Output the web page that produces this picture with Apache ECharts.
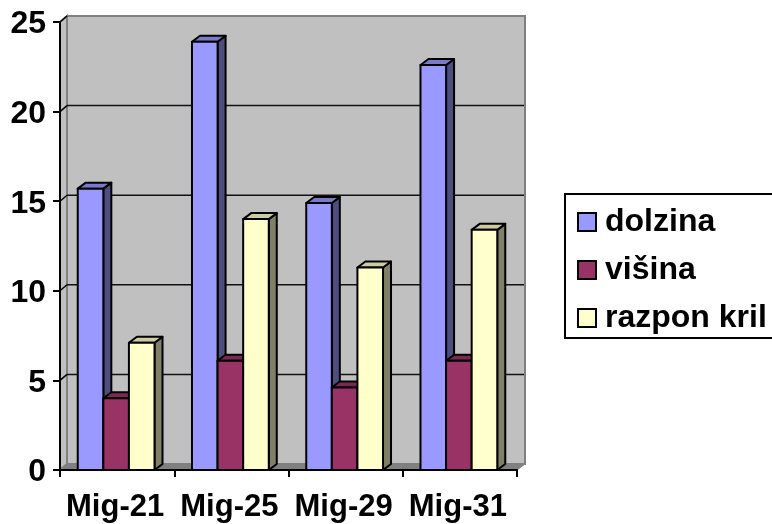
<!DOCTYPE html>
<html>
<head>
<meta charset="utf-8">
<style>
  html, body { margin: 0; padding: 0; background: #fff; }
  #chart { width: 772px; height: 524px; }
</style>
<script src="https://cdn.jsdelivr.net/npm/echarts@6/dist/echarts.min.js"></script>
</head>
<body>
<div id="chart"></div>
<script>
const categories = ["Mig-21", "Mig-25", "Mig-29", "Mig-31"];
const dolzina = [15.7, 23.9, 14.9, 22.6];
const visina = [4.0, 6.1, 4.6, 6.1];
const razpon = [7.1, 14.0, 11.3, 13.4];
const yTicks = [0, 5, 10, 15, 20, 25];

const FONT = "Liberation Sans";
const WALL_DX = 7, WALL_DY = -6; // depth of the fake 3d box
const BAR_DX = 8, BAR_DY = -6;

const chart = echarts.init(document.getElementById("chart"));

// back wall, left wall, floor and the gridlines on them
function renderWall(params, api) {
  const cs = params.coordSys;
  const x0 = cs.x, x1 = cs.x + cs.width;
  const yTop = cs.y, yBot = cs.y + cs.height;
  const grey = "#808080";
  const kids = [
    { type: "polygon", shape: { points: [[x0 + WALL_DX, yTop + WALL_DY], [x1 + WALL_DX + 1, yTop + WALL_DY], [x1 + WALL_DX + 1, yBot + WALL_DY], [x0 + WALL_DX, yBot + WALL_DY]] },
      style: { fill: "#c0c0c0", stroke: grey, lineWidth: 2 } },
    { type: "polygon", shape: { points: [[x0, yTop], [x0 + WALL_DX, yTop + WALL_DY], [x0 + WALL_DX, yBot + WALL_DY], [x0, yBot]] },
      style: { fill: "#c0c0c0", stroke: grey, lineWidth: 2 } },
    { type: "polygon", shape: { points: [[x0, yBot], [x0 + WALL_DX, yBot + WALL_DY], [x1 + WALL_DX + 1, yBot + WALL_DY], [x1, yBot]] },
      style: { fill: grey, stroke: grey, lineWidth: 1 } }
  ];
  yTicks.forEach(t => {
    const y = api.coord([0, t])[1];
    kids.push({ type: "polyline", shape: { points: [[x0, y], [x0 + WALL_DX, y + WALL_DY]] }, style: { stroke: t ? "#000" : grey, lineWidth: 1.5, fill: null } });
    if (t > 0 && t < 25) {
      kids.push({ type: "line", shape: { x1: x0 + WALL_DX, y1: y + WALL_DY, x2: x1 + WALL_DX, y2: y + WALL_DY }, style: { stroke: "#111", lineWidth: 1.5 } });
    }
  });
  return { type: "group", children: kids };
}

// one box: front, side and top faces
function barRenderer(seriesPos, front, side, top) {
  return function (params, api) {
    const top0 = api.coord([api.value(0), api.value(1)]);
    const base = api.coord([api.value(0), 0]);
    const band = api.size([1, 0])[0];
    const w = band * 0.224;
    const x = top0[0] + (seriesPos - 1.5) * w - 1;
    const y = top0[1], yB = base[1];
    const line = { stroke: "#000", lineWidth: 2, lineJoin: "round" };
    return {
      type: "group",
      children: [
        { type: "polygon", shape: { points: [[x + w, y], [x + w + BAR_DX, y + BAR_DY], [x + w + BAR_DX, yB + BAR_DY], [x + w, yB]] },
          style: Object.assign({ fill: side }, line) },
        { type: "polygon", shape: { points: [[x, y], [x + BAR_DX, y + BAR_DY], [x + w + BAR_DX, y + BAR_DY], [x + w, y]] },
          style: Object.assign({ fill: top }, line) },
        { type: "rect", shape: { x: x, y: y, width: w, height: yB - y },
          style: Object.assign({ fill: front }, line) }
      ]
    };
  };
}

function toPoints(values) {
  return values.map((v, i) => [i, v]);
}

const option = {
  animation: false,
  backgroundColor: "#fff",
  grid: { left: 60, right: 255, top: 22, bottom: 54 },
  legend: {
    orient: "vertical",
    left: 565,
    top: 194,
    data: ["dolzina", "višina", "razpon kril"],
    icon: "rect",
    itemWidth: 18,
    itemHeight: 18,
    itemGap: 16,
    padding: [12, 12, 4, 12],
    backgroundColor: "#fff",
    borderColor: "#000",
    borderWidth: 2,
    selectedMode: false,
    itemStyle: { borderColor: "#000", borderWidth: 2 },
    textStyle: { fontFamily: FONT, fontWeight: "bold", fontSize: 32, color: "#000", padding: [0, 0, 0, 4] }
  },
  xAxis: {
    type: "category",
    data: categories,
    z: 3,
    axisLine: { lineStyle: { color: "#000", width: 2 } },
    axisTick: { show: true, length: 7, alignWithLabel: false, lineStyle: { color: "#000", width: 2 } },
    axisLabel: { interval: 0, fontFamily: FONT, fontWeight: "bold", fontSize: 31, color: "#000", margin: 22, padding: [0, 4, 0, 0] }
  },
  yAxis: {
    type: "value",
    min: 0,
    max: 25,
    interval: 5,
    z: 3,
    axisLine: { show: true, lineStyle: { color: "#000", width: 2 } },
    axisTick: { show: true, length: 7, lineStyle: { color: "#000", width: 2 } },
    axisLabel: {
      margin: 14,
      formatter: "{t|{value}}",
      rich: { t: { fontFamily: FONT, fontWeight: "bold", fontSize: 32, color: "#000", padding: [5, 0, 0, 0] } }
    },
    splitLine: { show: false }
  },
  series: [
    { type: "custom", name: "wall", z: 1, silent: true, renderItem: renderWall, data: [[0, 0]], encode: { x: 0, y: 1 } },
    { type: "custom", name: "dolzina", z: 2, itemStyle: { color: "#9999ff" }, encode: { x: 0, y: 1 },
      renderItem: barRenderer(0, "#9999ff", "#4d4d80", "#7a7acc"), data: toPoints(dolzina) },
    { type: "custom", name: "višina", z: 2, itemStyle: { color: "#993366" }, encode: { x: 0, y: 1 },
      renderItem: barRenderer(1, "#993366", "#4d1a33", "#7a2952"), data: toPoints(visina) },
    { type: "custom", name: "razpon kril", z: 2, itemStyle: { color: "#ffffcc" }, encode: { x: 0, y: 1 },
      renderItem: barRenderer(2, "#ffffcc", "#808066", "#cccca3"), data: toPoints(razpon) }
  ]
};

chart.setOption(option);
</script>
</body>
</html>
